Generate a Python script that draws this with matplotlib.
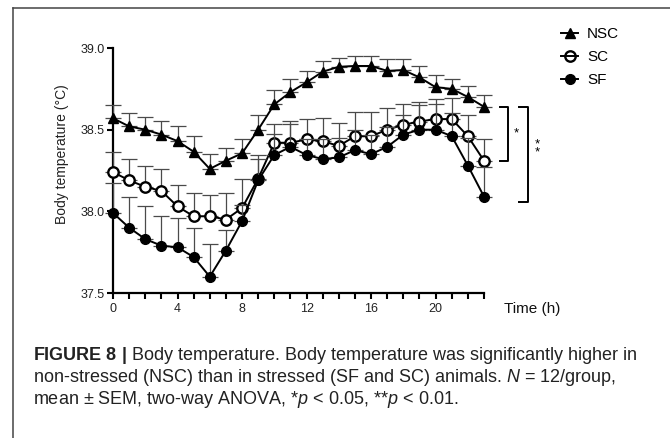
import numpy as np
import matplotlib
matplotlib.use("Agg")
import matplotlib.pyplot as plt
from matplotlib.lines import Line2D
from matplotlib.ticker import MultipleLocator

plt.rcParams['font.family'] = ['Liberation Sans', 'DejaVu Sans']
plt.rcParams['mathtext.fontset'] = 'custom'
plt.rcParams['mathtext.rm'] = 'Liberation Sans'
plt.rcParams['mathtext.it'] = 'Liberation Sans:italic'
plt.rcParams['mathtext.bf'] = 'Liberation Sans:bold'

# data, hours 0..23
hours = list(range(24))
nsc = [38.57, 38.52, 38.50, 38.47, 38.43, 38.365, 38.26, 38.31, 38.355, 38.50, 38.655, 38.73,
       38.79, 38.855, 38.885, 38.89, 38.89, 38.86, 38.865, 38.82, 38.76, 38.75, 38.70, 38.64]
nsc_sem = [0.08, 0.08, 0.08, 0.085, 0.09, 0.095, 0.09, 0.075, 0.085, 0.09, 0.085, 0.08,
           0.07, 0.065, 0.055, 0.06, 0.06, 0.07, 0.065, 0.07, 0.075, 0.06, 0.07, 0.07]
sc = [38.24, 38.19, 38.15, 38.125, 38.03, 37.97, 37.97, 37.95, 38.02, 38.20, 38.42, 38.42,
      38.44, 38.43, 38.40, 38.46, 38.46, 38.50, 38.53, 38.55, 38.565, 38.565, 38.46, 38.31]
sc_sem = [0.125, 0.13, 0.13, 0.135, 0.13, 0.14, 0.13, 0.16, 0.18, 0.145, 0.115, 0.135,
          0.125, 0.14, 0.14, 0.15, 0.15, 0.135, 0.125, 0.12, 0.12, 0.13, 0.13, 0.13]
sf = [37.99, 37.90, 37.83, 37.79, 37.78, 37.72, 37.60, 37.76, 37.94, 38.19, 38.345, 38.395,
      38.345, 38.32, 38.33, 38.375, 38.35, 38.395, 38.47, 38.50, 38.50, 38.46, 38.28, 38.09]
sf_sem = [0.185, 0.19, 0.20, 0.18, 0.18, 0.18, 0.20, 0.125, 0.10, 0.13, 0.13, 0.14,
          0.10, 0.12, 0.12, 0.12, 0.12, 0.12, 0.12, 0.15, 0.16, 0.14, 0.17, 0.18]

labels = ["NSC", "SC", "SF"]
caption = [
    r"$\mathbf{FIGURE\ 8\ |}$ Body temperature. Body temperature was significantly higher in",
    r"non-stressed (NSC) than in stressed (SF and SC) animals. $\mathit{N}$ = 12/group,",
    r"mean $\pm$ SEM, two-way ANOVA, *$\mathit{p}$ < 0.05, **$\mathit{p}$ < 0.01.",
]

W, H = 670, 438
fig = plt.figure(figsize=(W / 100, H / 100), dpi=100)
ax = fig.add_axes([113 / W, 1 - 293 / H, 371 / W, 245 / H])

# frame lines of the figure panel
fig.add_artist(Line2D([13 / W, 1], [1 - 8 / H, 1 - 8 / H], color="#444444", lw=1.1))
fig.add_artist(Line2D([13 / W, 13 / W], [0, 1 - 8 / H], color="#444444", lw=1.1))

ecol = "#4a4a4a"
styles = [
    dict(marker="^", ms=6.5, mfc="black", mec="black"),
    dict(marker="o", ms=7.5, mfc="white", mec="black", mew=1.7),
    dict(marker="o", ms=7, mfc="black", mec="black"),
]
series = [(nsc, nsc_sem), (sc, sc_sem), (sf, sf_sem)]
for i, ((vals, sem), st) in enumerate(zip(series, styles)):
    z = 3 + i * 2
    ax.errorbar(hours, vals, yerr=[np.zeros(len(sem)), sem], fmt="none", ecolor=ecol,
                elinewidth=0.9, capsize=5.5, capthick=0.9, zorder=z, clip_on=False)
    ax.plot(hours, vals, color="black", lw=1.4, zorder=z + 1, clip_on=False, **st)

ax.set_xlim(0, 23)
ax.set_ylim(37.5, 39.0)
ax.spines["top"].set_visible(False)
ax.spines["right"].set_visible(False)
for s in ["left", "bottom"]:
    ax.spines[s].set_linewidth(1.6)
ax.xaxis.set_major_locator(MultipleLocator(4))
ax.xaxis.set_minor_locator(MultipleLocator(1))
ax.yaxis.set_major_locator(MultipleLocator(0.5))
ax.set_xticks(range(0, 21, 4))
ax.tick_params(axis="both", which="both", direction="out", width=1.5, length=4,
               labelsize=9, labelcolor="#222222", pad=2)
ax.tick_params(axis="x", pad=3)
ax.yaxis.set_major_formatter(matplotlib.ticker.FormatStrFormatter("%.1f"))
ax.set_ylabel("Body temperature (°C)", fontsize=10, color="#222222")
ax.yaxis.set_label_coords(-0.118, 0.565)

fig.text(504 / W, 1 - 309 / H, "Time (h)", fontsize=11, va="center", ha="left", color="#111111")

# significance brackets
def bracket(x0, x1, ytop, ybot):
    ax.plot([x0, x1, x1, x0], [ytop, ytop, ybot, ybot], color="black", lw=1.4, clip_on=False)

bracket(24.0, 24.5, nsc[-1], sc[-1])
bracket(25.2, 25.7, nsc[-1], sf[-1] - 0.03)
ax.text(24.85, (nsc[-1] + sc[-1]) / 2, "*", fontsize=9.5, va="center", ha="left")
ax.text(26.3, (nsc[-1] + sf[-1]) / 2 + 0.02, "*\n*", fontsize=9.5, va="center", ha="center",
        linespacing=0.6)

handles = []
for st in styles:
    h = dict(st)
    if h["mfc"] == "white":
        h["mfc"] = "none"
    handles.append(Line2D([], [], color="black", lw=1.4, **h))
fig.legend(handles, labels, loc="upper left", bbox_to_anchor=(555 / W, 1 - 21 / H),
           frameon=False, fontsize=11, handlelength=1.1, handletextpad=0.6,
           labelspacing=0.6, borderaxespad=0)

for k, line in enumerate(caption):
    fig.text(33 / W, 1 - (355 + 22 * k) / H, line, fontsize=13, color="#222222",
             va="center", ha="left")

fig.savefig("out.png", dpi=100)
